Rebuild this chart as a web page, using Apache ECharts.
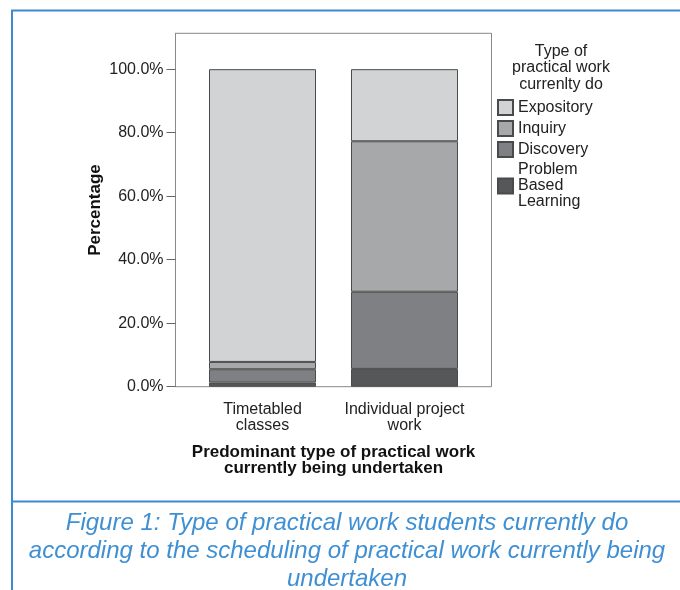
<!DOCTYPE html>
<html>
<head>
<meta charset="utf-8">
<script src="https://cdn.jsdelivr.net/npm/echarts@6/dist/echarts.min.js"></script>
<style>
  html, body { margin: 0; padding: 0; background: #fff; }
  #main { width: 680px; height: 590px; }
</style>
</head>
<body>
<div id="main"></div>
<script>
var myChart = echarts.init(document.getElementById('main'));

// data (percent of students)
var categories = ['Timetabled\nclasses', 'Individual project\nwork'];
var seriesNames = ['Problem Based Learning', 'Discovery', 'Inquiry', 'Expository'];
var pblValues = [1.3, 5.6];
var discoveryValues = [4.2, 24.3];
var inquiryValues = [2.3, 47.4];
var expositoryValues = [92.2, 22.7];
var yTicks = [0, 20, 40, 60, 80, 100];

var colors = ['#565759', '#7f8083', '#a7a8aa', '#d2d3d5'];
var font = '"Liberation Sans", Arial, sans-serif';
var allValues = [pblValues, discoveryValues, inquiryValues, expositoryValues];

var series = seriesNames.map(function (name, i) {
    return {
        name: name,
        type: 'bar',
        stack: 'total',
        barWidth: 107,
        data: allValues[i],
        itemStyle: {
            color: colors[i],
            borderColor: '#4a4a4a',
            borderWidth: 1
        }
    };
});

option = {
    backgroundColor: '#fff',
    animation: false,
    title: {
        text: 'Type of\npractical work\ncurrenlty do',
        left: 561,
        top: 43,
        textAlign: 'center',
        padding: 0,
        textStyle: {
            fontFamily: font,
            fontSize: 16,
            fontWeight: 'normal',
            lineHeight: 16.5,
            color: '#222'
        }
    },
    legend: {
        orient: 'vertical',
        left: 497,
        top: 99,
        padding: 0,
        itemWidth: 15,
        itemHeight: 15,
        itemGap: 4,
        icon: 'rect',
        data: ['Expository', 'Inquiry', 'Discovery', 'Problem Based Learning'],
        formatter: function (name) {
            return name.split(' ').join('\n');
        },
        textStyle: {
            fontFamily: font,
            fontSize: 16,
            lineHeight: 16,
            color: '#222'
        }
    },
    grid: [
        { left: 191.5, width: 284, top: 33.3, bottom: 203.3 },
        { left: 175.5, width: 316, top: 33.3, bottom: 203.3, show: true,
          borderColor: '#888', borderWidth: 1 }
    ],
    xAxis: [
        {
            type: 'category',
            gridIndex: 0,
            data: categories,
            name: 'Predominant type of practical work\ncurrently being undertaken',
            nameLocation: 'middle',
            nameGap: 58,
            nameTextStyle: {
                fontFamily: font,
                fontSize: 17,
                fontWeight: 'bold',
                lineHeight: 16,
                color: '#111'
            },
            axisLine: { show: false },
            axisTick: { alignWithLabel: true, length: 10, lineStyle: { color: '#666' } },
            axisLabel: {
                interval: 0,
                margin: 15,
                fontFamily: font,
                fontSize: 16,
                lineHeight: 16,
                color: '#222'
            }
        },
        { type: 'value', gridIndex: 1, show: false }
    ],
    yAxis: [
        {
            type: 'value',
            gridIndex: 0,
            min: 0,
            max: 111.3,
            interval: 20,
            offset: 16,
            name: 'Percentage',
            nameLocation: 'middle',
            nameGap: 72,
            nameTextStyle: {
                fontFamily: font,
                fontSize: 17,
                fontWeight: 'bold',
                color: '#111'
            },
            splitLine: { show: false },
            axisLine: { show: true, lineStyle: { color: '#888' } },
            axisTick: { show: true, length: 9, lineStyle: { color: '#666' } },
            axisLabel: {
                margin: 12,
                showMaxLabel: false,
                fontFamily: font,
                fontSize: 16,
                color: '#222',
                formatter: function (v) {
                    return yTicks.indexOf(v) >= 0 ? v.toFixed(1) + '%' : '';
                }
            }
        },
        { type: 'value', gridIndex: 1, show: false }
    ],
    graphic: [
        { type: 'line', shape: { x1: 11, y1: 10.5, x2: 680, y2: 10.5 },
          style: { stroke: '#3d8ad0', lineWidth: 2 } },
        { type: 'line', shape: { x1: 12, y1: 10, x2: 12, y2: 590 },
          style: { stroke: '#3d8ad0', lineWidth: 2 } },
        { type: 'line', shape: { x1: 11, y1: 501.5, x2: 680, y2: 501.5 },
          style: { stroke: '#3d8ad0', lineWidth: 2 } },
        {
            type: 'text',
            x: 347,
            y: 509,
            style: {
                text: 'Figure 1: Type of practical work students currently do\naccording to the scheduling of practical work currently being\nundertaken',
                fontFamily: font,
                fontStyle: 'italic',
                fontSize: 24,
                lineHeight: 28,
                fill: '#3f8fd3',
                textAlign: 'center'
            }
        }
    ],
    series: series
};

myChart.setOption(option);
</script>
</body>
</html>
